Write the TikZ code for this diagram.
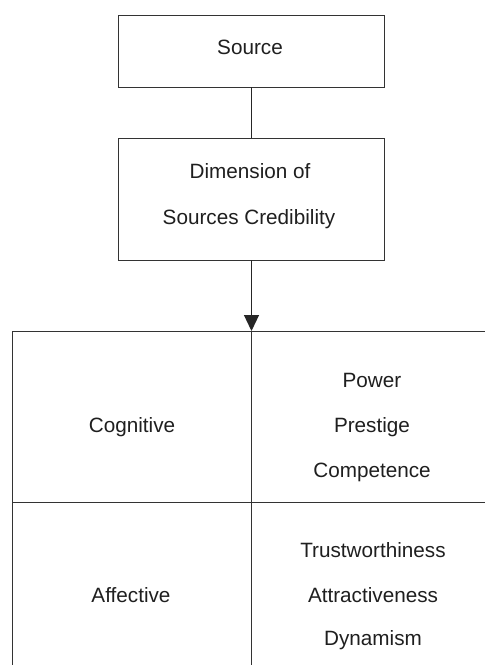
\documentclass[tikz,border=0pt]{standalone}
\usepackage{fontspec}
\setmainfont{Liberation Sans}
\usetikzlibrary{arrows.meta}
\begin{document}
\begin{tikzpicture}[x=1pt,y=-1pt,
  every node/.style={inner sep=0pt,outer sep=0pt},
  boxnode/.style={draw=black!80,line width=0.9pt,rectangle},
  label/.style={font=\fontsize{20.7}{24}\selectfont,text=black!88,
    text height=14.8pt,text depth=0pt,anchor=center},
  rule/.style={draw=black!80,line width=0.9pt},
  link/.style={draw=black!85,line width=1.2pt},
  arrowlink/.style={link,-{Triangle[length=16pt,width=15pt]}}]
  \useasboundingbox[fill=white] (0,0) rectangle (485,665);

  % upper boxes
  \node[boxnode,minimum width=266pt,minimum height=72pt] (src) at (251.5,51) {};
  \node[boxnode,minimum width=266pt,minimum height=122pt] (dim) at (251.5,199) {};
  \node[label] (srctext) at (250,47) {Source};
  \node[label] (dim1) at (250,171) {Dimension of};
  \node[label] (dim2) at (249,217) {Sources Credibility};

  % table frame (open to the right and below)
  \coordinate (tabletop) at (251.5,331);
  \coordinate (tl) at (12,331);
  \coordinate (tr) at (485,331);
  \coordinate (bl) at (12,665);
  \coordinate (bm) at (251.5,665);
  \coordinate (ml) at (12,502);
  \coordinate (mr) at (485,502);
  \draw[rule] (tl) -- (tr);
  \draw[rule] (ml) -- (mr);
  \draw[rule] (tl) -- (bl);
  \draw[rule] (tabletop) -- (bm);

  % connectors
  \draw[link] (src.south) -- (dim.north);
  \draw[arrowlink] (dim.south) -- (tabletop);

  % table labels
  \node[label] (cog) at (132,425) {Cognitive};
  \node[label] (pow) at (372,380) {Power};
  \node[label] (pre) at (372,425) {Prestige};
  \node[label] (com) at (372,470) {Competence};
  \node[label] (aff) at (131,595) {Affective};
  \node[label] (tru) at (373,550) {Trustworthiness};
  \node[label] (att) at (373,595) {Attractiveness};
  \node[label] (dyn) at (373,638) {Dynamism};
\end{tikzpicture}
\end{document}
